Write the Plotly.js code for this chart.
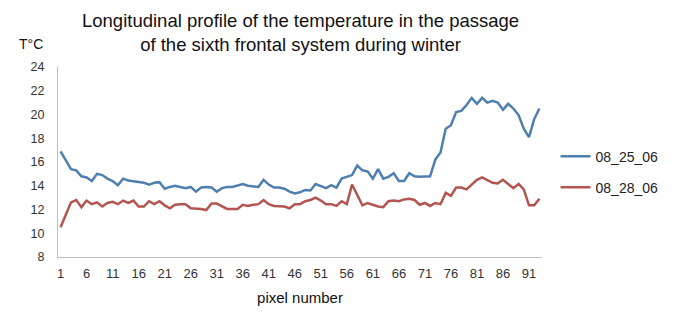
<!DOCTYPE html>
<html>
<head>
<meta charset="utf-8">
<script src="https://cdn.plot.ly/plotly-3.0.1.min.js"></script>
<style>html,body{margin:0;padding:0;background:#fff;}#chart{width:676px;height:312px;}</style>
</head>
<body>
<div id="chart"></div>
<script>
const pixels = [1,2,3,4,5,6,7,8,9,10,11,12,13,14,15,16,17,18,19,20,21,22,23,24,25,26,27,28,29,30,
  31,32,33,34,35,36,37,38,39,40,41,42,43,44,45,46,47,48,49,50,51,52,53,54,55,56,57,58,59,60,
  61,62,63,64,65,66,67,68,69,70,71,72,73,74,75,76,77,78,79,80,81,82,83,84,85,86,87,88,89,90,91,92,93];

const s082506 = [16.9,16.2,15.4,15.3,14.8,14.7,14.4,15.0,14.9,14.6,
  14.4,14.05,14.6,14.45,14.4,14.35,14.25,14.1,14.25,14.3,
  13.75,13.9,14.0,13.9,13.8,13.9,13.5,13.85,13.9,13.85,
  13.5,13.8,13.9,13.9,14.05,14.15,14.0,13.95,13.9,14.5,
  14.1,13.85,13.85,13.75,13.5,13.35,13.45,13.65,13.6,14.15,
  14.0,13.8,14.05,13.85,14.6,14.75,14.9,15.7,15.3,15.2,
  14.6,15.4,14.6,14.75,15.05,14.4,14.4,15.05,14.8,14.75,
  14.75,14.8,16.2,16.8,18.8,19.1,20.2,20.3,20.8,21.4,
  20.9,21.4,21.0,21.15,21.0,20.4,20.9,20.5,19.95,18.8,
  18.1,19.6,20.5];

const s082806 = [10.5,11.5,12.6,12.8,12.2,12.75,12.45,12.6,12.25,12.55,
  12.65,12.45,12.75,12.55,12.75,12.25,12.25,12.7,12.45,12.7,
  12.35,12.1,12.4,12.45,12.45,12.1,12.1,12.05,11.95,12.5,
  12.5,12.3,12.05,12.05,12.05,12.4,12.3,12.4,12.45,12.8,
  12.45,12.3,12.25,12.25,12.1,12.45,12.45,12.7,12.8,13.0,
  12.75,12.45,12.45,12.3,12.7,12.45,14.1,13.2,12.35,12.55,
  12.4,12.25,12.2,12.7,12.75,12.7,12.85,12.9,12.8,12.4,
  12.55,12.3,12.55,12.45,13.4,13.15,13.85,13.85,13.7,14.1,
  14.5,14.7,14.45,14.25,14.2,14.5,14.15,13.8,14.15,13.7,
  12.35,12.35,12.9];

const xTicks = [1,6,11,16,21,26,31,36,41,46,51,56,61,66,71,76,81,86,91];
const yTicks = [8,10,12,14,16,18,20,22,24];
const seriesNames = ['08_25_06','08_28_06'];

const traces = [
  {x: pixels, y: s082506, name: seriesNames[0], legendgroup: 'a', type: 'scatter', mode: 'lines',
   line: {color: '#4F7FAE', width: 2.5}},
  {x: pixels, y: s082806, name: seriesNames[1], legendgroup: 'b', type: 'scatter', mode: 'lines',
   line: {color: '#B25550', width: 2.5}}
];

const layout = {
  width: 676, height: 312,
  margin: {l: 58, r: 111, t: 67, b: 55},
  paper_bgcolor: '#fff', plot_bgcolor: '#fff',
  font: {family: 'Liberation Sans, Arial, sans-serif', color: '#222'},
  showlegend: true,
  legend: {x: 1.028, xanchor: 'left', y: 0.447, yanchor: 'middle', font: {size: 14, color: '#222'},
           traceorder: 'grouped', tracegroupgap: 10, itemwidth: 30, bgcolor: 'rgba(0,0,0,0)'},
  xaxis: {range: [0.5, 93.5], tickvals: xTicks, ticktext: xTicks.map(String),
          showgrid: false, zeroline: false, showline: true, linecolor: '#BFBFBF', linewidth: 1,
          ticks: '', ticklabelstandoff: 4, tickfont: {size: 13, color: '#333'},
          title: {text: 'pixel number', font: {size: 15, color: '#111'}, standoff: 12}},
  yaxis: {range: [8, 24], tickvals: yTicks, showgrid: false, zeroline: false,
          showline: true, linecolor: '#BFBFBF', linewidth: 1, ticks: '',
          ticklabelstandoff: 10, tickfont: {size: 12.5, color: '#333'}},
  annotations: [
    {text: 'Longitudinal profile of the temperature in the passage<br>of the sixth frontal system during winter',
     xref: 'paper', yref: 'paper', x: 0.5, y: 1.179, xanchor: 'center', yanchor: 'middle',
     showarrow: false, align: 'center', font: {size: 18.5, color: '#111'}},
    {text: 'T°C', xref: 'paper', yref: 'paper', x: -0.055, y: 1.12,
     xanchor: 'center', yanchor: 'middle', showarrow: false,
     font: {size: 14, color: '#111'}}]
};

Plotly.newPlot('chart', traces, layout, {displayModeBar: false, staticPlot: true});
</script>
</body>
</html>
